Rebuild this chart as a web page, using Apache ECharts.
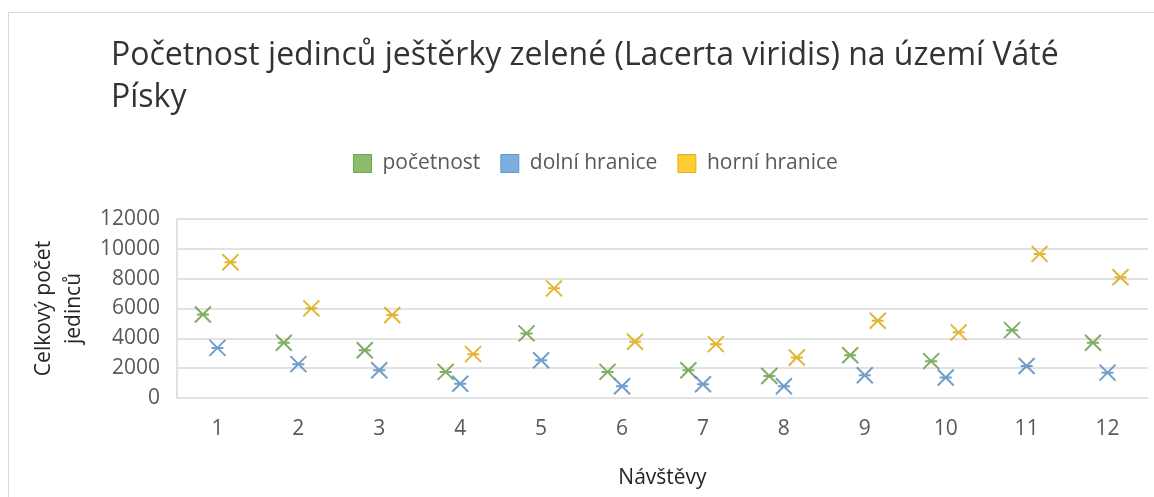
<!DOCTYPE html>
<html><head><meta charset="utf-8">
<script src="https://cdn.jsdelivr.net/npm/echarts@6/dist/echarts.min.js"></script>
<style>html,body{margin:0;padding:0;background:#fff}#c{width:1154px;height:497px}</style>
</head><body><div id="c"></div>
<script>
const categories = ['1','2','3','4','5','6','7','8','9','10','11','12'];
const pocetnost = [5600, 3700, 3200, 1750, 4330, 1750, 1860, 1480, 2870, 2470, 4550, 3700];
const dolniHranice = [3360, 2270, 1860, 960, 2530, 790, 920, 790, 1530, 1370, 2150, 1700];
const horniHranice = [9100, 6010, 5560, 2940, 7350, 3770, 3610, 2710, 5180, 4400, 9660, 8090];
const yTicks = [0, 2000, 4000, 6000, 8000, 10000, 12000];
const offsets = [-0.18, 0, 0.16];

const FONT = '"Open Sans", sans-serif';
const star = 'path://M0,0L16,16M16,0L0,16M2,8L14,8';

function pts(vals, off) { return vals.map((v, i) => [i + 1 + off, v]); }
function ser(name, vals, off, color) {
  return {
    name, type: 'scatter', xAxisIndex: 1, yAxisIndex: 0,
    data: pts(vals, off), symbol: star, symbolSize: [16, 16],
    itemStyle: { color: 'none', borderColor: color, borderWidth: 2 },
    emphasis: { disabled: true }
  };
}
const chart = echarts.init(document.getElementById('c'), null, { renderer: 'canvas' });
chart.setOption({
  animation: false,
  backgroundColor: '#fff',
  graphic: [{ type: 'rect', shape: { x: 8.5, y: 12.5, width: 1200, height: 600 },
    style: { fill: 'none', stroke: '#d9d9d9', lineWidth: 1 }, silent: true }],
  title: {
    text: 'Početnost jedinců ještěrky zelené (Lacerta viridis) na území Váté\nPísky',
    left: 106, top: 30,
    textStyle: { fontFamily: FONT, fontSize: 32, fontWeight: 'normal', color: '#333', lineHeight: 42 }
  },
  legend: {
    top: 148, left: 348, itemWidth: 18, itemHeight: 18, itemGap: 20,
    textStyle: { fontFamily: FONT, fontSize: 21, color: '#595959', padding: [0, 0, 0, 6] },
    data: [
      { name: 'početnost', icon: 'rect', itemStyle: { color: '#70AD47', borderColor: '#5e9438', borderWidth: 1 } },
      { name: 'dolní hranice', icon: 'rect', itemStyle: { color: '#5B9BD5', borderColor: '#4a89c0', borderWidth: 1 } },
      { name: 'horní hranice', icon: 'rect', itemStyle: { color: '#FFC000', borderColor: '#d9a300', borderWidth: 1 } }
    ]
  },
  grid: { left: 177, right: 6, top: 219, bottom: 99, containLabel: false },
  xAxis: [
    { type: 'category', data: categories, boundaryGap: true,
      axisLine: { show: false }, axisTick: { show: false }, splitLine: { show: false },
      axisLabel: { margin: 21, fontFamily: FONT, fontSize: 21, color: '#595959' },
      name: 'Návštěvy', nameLocation: 'middle', nameGap: 70,
      nameTextStyle: { fontFamily: FONT, fontSize: 21, color: '#262626' } },
    { type: 'value', min: 0.5, max: 12.5, show: false }
  ],
  yAxis: [{
    type: 'value', min: 0, max: 12000, interval: 2000,
    axisLine: { show: true, lineStyle: { color: '#d9d9d9', width: 1.5 } },
    axisTick: { show: false },
    splitLine: { lineStyle: { color: '#d9d9d9', width: 1.5 } },
    axisLabel: { margin: 17, fontFamily: FONT, fontSize: 21, color: '#595959',
      formatter: v => (yTicks.includes(v) ? String(v) : '') },
    name: 'Celkový počet\njedinců', nameLocation: 'middle', nameRotate: 90, nameGap: 88,
    nameTextStyle: { fontFamily: FONT, fontSize: 21, color: '#262626', lineHeight: 30 }
  }],
  series: [
    ser('početnost', pocetnost, offsets[0], '#5f9a3d'),
    ser('dolní hranice', dolniHranice, offsets[1], '#4f86bd'),
    ser('horní hranice', horniHranice, offsets[2], '#dba500')
  ]
});
</script></body></html>
